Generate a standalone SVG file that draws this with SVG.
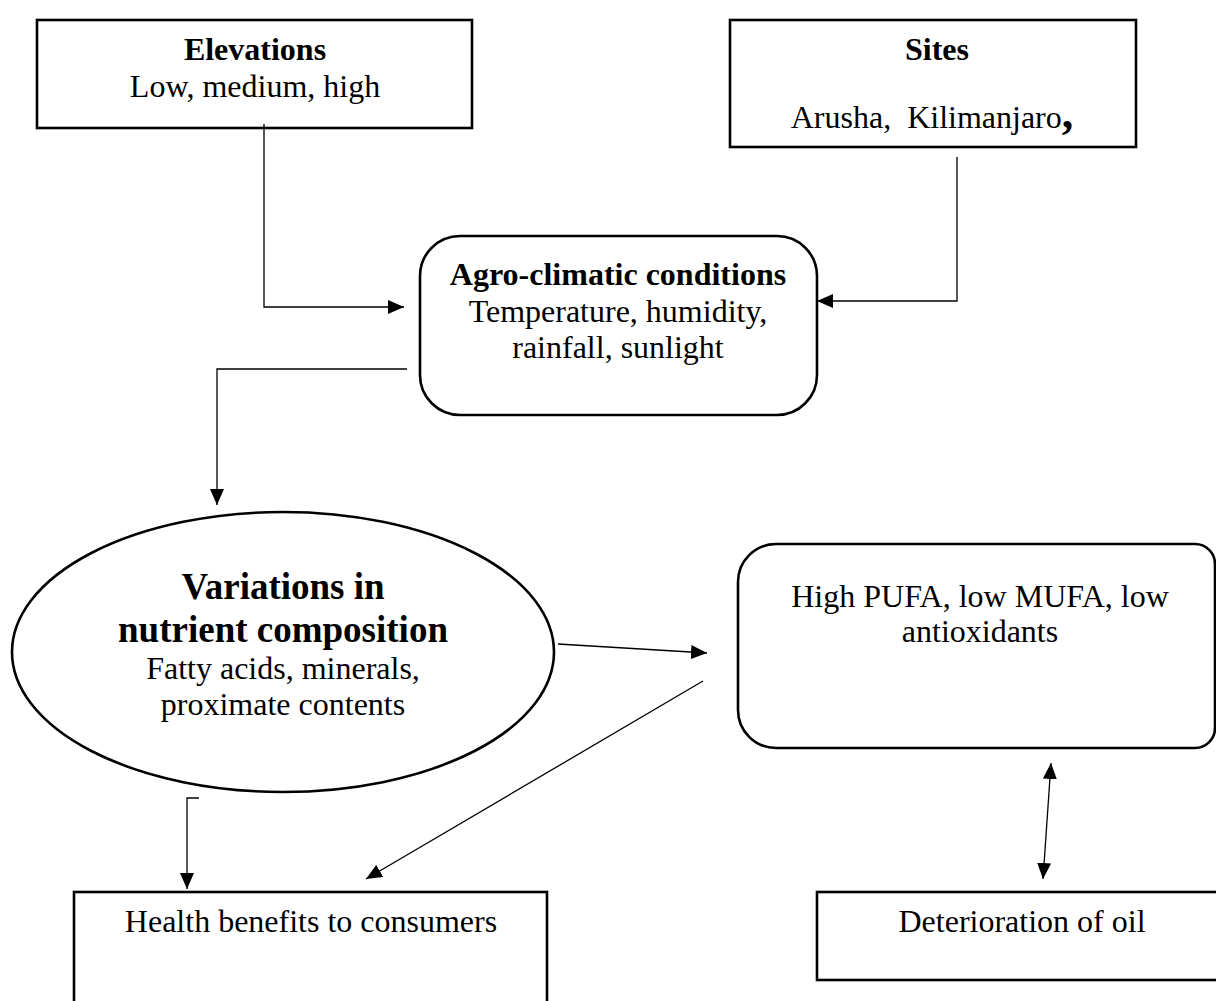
<svg xmlns="http://www.w3.org/2000/svg" width="1216" height="1001" viewBox="0 0 1216 1001">
<style>
text{font-family:"Liberation Serif","Times New Roman",serif;font-size:32px;fill:#000;text-anchor:middle}
.b{font-weight:bold}
.big{font-size:37px;font-weight:bold}
.box{fill:#fff;stroke:#000;stroke-width:2.6}
.con{fill:none;stroke:#000;stroke-width:1.3}
</style>
<defs>
<marker id="ah" viewBox="0 0 16 14" refX="16" refY="7" markerWidth="16" markerHeight="14" orient="auto-start-reverse" markerUnits="userSpaceOnUse"><path d="M0,0 L16,7 L0,14 z" fill="#000"/></marker>
</defs>
<rect width="1216" height="1001" fill="#fff"/>
<g id="elevations">
<rect class="box" x="37" y="20" width="435" height="108"/>
<text class="b" x="255" y="60">Elevations</text>
<text x="255" y="97">Low, medium, high</text>
</g>
<g id="sites">
<rect class="box" x="730" y="20" width="406" height="127"/>
<text class="b" x="937" y="60">Sites</text>
<text x="932" y="128" xml:space="preserve">Arusha,  Kilimanjaro<tspan style="font-size:46px;font-weight:bold">,</tspan></text>
</g>
<g id="agro">
<rect class="box" x="420" y="236" width="397" height="179" rx="40" ry="40"/>
<text class="b" x="618" y="285">Agro-climatic conditions</text>
<text x="618" y="322">Temperature, humidity,</text>
<text x="618" y="358">rainfall, sunlight</text>
</g>
<g id="variations">
<ellipse class="box" cx="283" cy="652" rx="271" ry="140"/>
<text class="big" x="283" y="599">Variations in</text>
<text class="big" x="283" y="642">nutrient composition</text>
<text x="283" y="679">Fatty acids, minerals,</text>
<text x="283" y="715">proximate contents</text>
</g>
<g id="pufa">
<path class="box" d="M776,544 H1195 A20,20 0 0 1 1215,564 V728 A20,20 0 0 1 1195,748 H776 A38,38 0 0 1 738,710 V582 A38,38 0 0 1 776,544 Z"/>
<text x="980" y="607">High PUFA, low MUFA, low</text>
<text x="980" y="642">antioxidants</text>
</g>
<g id="health">
<rect class="box" x="74" y="892" width="473" height="120"/>
<text x="311" y="932">Health benefits to consumers</text>
</g>
<g id="deterioration">
<rect class="box" x="817" y="892" width="420" height="88"/>
<text x="1022" y="932">Deterioration of oil</text>
</g>
<g id="connectors">
<polyline class="con" points="264,124 264,307 404,307" marker-end="url(#ah)"/>
<polyline class="con" points="957,157 957,301 817,301" marker-end="url(#ah)"/>
<polyline class="con" points="407,369 217,369 217,505" marker-end="url(#ah)"/>
<line class="con" x1="558" y1="644" x2="707" y2="653" marker-end="url(#ah)"/>
<line class="con" x1="703" y1="681" x2="366" y2="879" marker-end="url(#ah)"/>
<polyline class="con" points="199,798 187,798 187,889" marker-end="url(#ah)"/>
<line class="con" x1="1051" y1="763" x2="1043" y2="879" marker-start="url(#ah)" marker-end="url(#ah)"/>
</g>
</svg>
